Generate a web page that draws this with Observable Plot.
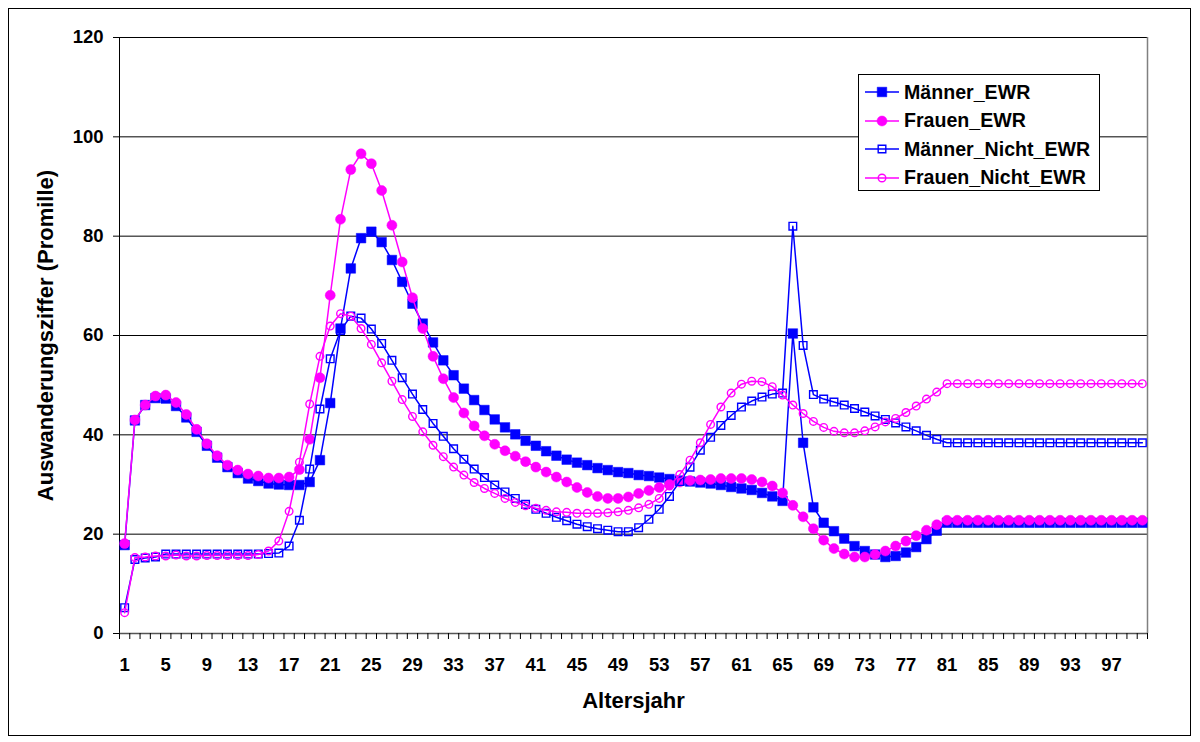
<!DOCTYPE html>
<html>
<head>
<meta charset="utf-8">
<script src="https://cdn.jsdelivr.net/npm/d3@7"></script>
<script src="https://cdn.jsdelivr.net/npm/@observablehq/plot@0.6"></script>
<style>
  body { margin: 0; background: #fff; }
  #wrap { position: relative; width: 1200px; height: 742px; font-family: "Liberation Sans", Arial, sans-serif; }
  #frame { position: absolute; left: 8px; top: 8px; width: 1181px; height: 726px; border: 1px solid #000; pointer-events: none; }
  #legend { position: absolute; left: 858px; top: 74px; width: 242px; height: 117px; box-sizing: border-box;
            border: 1px solid #000; background: #fff; padding-top: 3px; }
  .row { display: flex; align-items: center; height: 28.5px; font-weight: bold; font-size: 19.6px; color: #000; }
  .row svg { margin-left: 6px; margin-right: 5px; }
</style>
</head>
<body>
<div id="wrap"><div id="frame"></div></div>
<script>
// Altersjahr 1..100
const ages = d3.range(1, 101);

const maennerEWR = [
  17.8,42.9,46.0,47.4,47.3,45.8,43.5,40.6,37.8,35.4,
  33.5,32.3,31.2,30.7,30.2,30.0,29.9,29.9,30.5,34.9,
  46.4,61.4,73.5,79.6,80.9,78.8,75.2,70.8,66.4,62.4,
  58.6,55.0,52.0,49.3,47.0,45.0,43.1,41.5,40.1,38.8,
  37.8,36.7,35.8,35.0,34.4,33.9,33.3,32.9,32.5,32.3,
  31.9,31.7,31.4,31.1,30.8,30.6,30.4,30.2,29.9,29.5,
  29.2,28.9,28.3,27.6,26.7,60.4,38.4,25.4,22.3,20.6,
  19.1,17.6,16.6,15.9,15.4,15.6,16.3,17.4,19.0,20.7,
  22.3,22.3,22.3,22.3,22.3,22.3,22.3,22.3,22.3,22.3,
  22.3,22.3,22.3,22.3,22.3,22.3,22.3,22.3,22.3,22.3
];

const frauenEWR = [
  18.1,43.0,46.0,47.8,48.0,46.5,44.1,41.1,38.2,35.8,
  33.9,32.9,32.1,31.7,31.3,31.3,31.5,33.0,39.1,51.5,
  68.1,83.4,93.4,96.6,94.6,89.2,82.2,74.8,67.6,61.4,
  55.8,51.3,47.5,44.4,41.8,39.8,38.1,36.8,35.7,34.6,
  33.5,32.5,31.5,30.5,29.4,28.4,27.6,27.2,27.2,27.5,
  28.2,28.8,29.4,30.0,30.5,30.8,30.9,31.0,31.2,31.2,
  31.2,31.0,30.5,29.7,28.3,25.8,23.5,21.1,18.8,17.1,
  16.0,15.4,15.4,15.9,16.6,17.6,18.6,19.7,20.8,21.9,
  22.8,22.8,22.8,22.8,22.8,22.8,22.8,22.8,22.8,22.8,
  22.8,22.8,22.8,22.8,22.8,22.8,22.8,22.8,22.8,22.8
];

const maennerNichtEWR = [
  5.2,14.9,15.2,15.4,16.0,16.0,16.0,16.0,16.0,16.0,
  16.0,16.0,16.0,16.0,16.1,16.2,17.6,22.8,33.1,45.2,
  55.3,61.0,63.9,63.5,61.3,58.4,55.0,51.5,48.2,45.1,
  42.3,39.7,37.2,35.1,33.1,31.4,29.9,28.5,27.2,26.0,
  25.0,24.2,23.4,22.7,22.0,21.5,21.1,20.8,20.5,20.5,
  21.3,23.0,25.0,27.6,30.6,33.5,36.9,39.5,41.9,43.9,
  45.6,46.8,47.6,48.2,48.4,82.0,58.0,48.1,47.2,46.6,
  46.0,45.3,44.6,43.8,43.1,42.4,41.6,40.8,39.9,39.1,
  38.4,38.4,38.4,38.4,38.4,38.4,38.4,38.4,38.4,38.4,
  38.4,38.4,38.4,38.4,38.4,38.4,38.4,38.4,38.4,38.4
];

const frauenNichtEWR = [
  4.2,15.3,15.4,15.6,15.6,15.8,15.6,15.6,15.7,15.7,
  15.7,15.7,15.7,15.9,16.6,18.6,24.6,34.5,46.2,55.8,
  61.9,64.4,63.9,61.4,58.2,54.5,50.8,47.1,43.7,40.6,
  37.9,35.6,33.5,31.9,30.4,29.2,28.2,27.2,26.4,25.7,
  25.2,24.8,24.5,24.4,24.2,24.2,24.2,24.3,24.5,24.8,
  25.3,26.0,27.2,29.7,32.0,34.9,38.4,42.1,45.6,48.4,
  50.2,50.8,50.7,49.7,48.0,46.0,44.3,42.7,41.5,40.7,
  40.4,40.4,40.8,41.6,42.6,43.3,44.5,45.8,47.2,48.6,
  50.3,50.3,50.3,50.3,50.3,50.3,50.3,50.3,50.3,50.3,
  50.3,50.3,50.3,50.3,50.3,50.3,50.3,50.3,50.3,50.3
];

const seriesNames = ["Männer_EWR", "Frauen_EWR", "Männer_Nicht_EWR", "Frauen_Nicht_EWR"];
const yTicks = [0, 20, 40, 60, 80, 100, 120];
const xTickLabels = [1, 5, 9, 13, 17, 21, 25, 29, 33, 37, 41, 45, 49, 53, 57, 61, 65, 69, 73, 77, 81, 85, 89, 93, 97];
const xTitle = "Altersjahr";
const yTitle = "Auswanderungsziffer (Promille)";

const BLUE = "#0000ff", MAGENTA = "#ff00ff";
const series = [
  {name: seriesNames[0], values: maennerEWR,      color: BLUE,    symbol: "square", filled: true,  r: 5.4},
  {name: seriesNames[1], values: frauenEWR,       color: MAGENTA, symbol: "circle", filled: true,  r: 5.0},
  {name: seriesNames[2], values: maennerNichtEWR, color: BLUE,    symbol: "square", filled: false, r: 4.3},
  {name: seriesNames[3], values: frauenNichtEWR,  color: MAGENTA, symbol: "circle", filled: false, r: 3.8}
];
series.forEach(s => { s.data = ages.map((a, i) => ({age: a, value: s.values[i], series: s.name})); });

const xDomain = [ages[0] - 0.5, ages[ages.length - 1] + 0.5];
const catBoundaries = d3.range(xDomain[0], xDomain[1] + 0.001, 1);

const marks = [
  Plot.gridY(yTicks.filter(d => d > 0), {stroke: "#000", strokeOpacity: 1, strokeWidth: 1}),
  Plot.ruleX([xDomain[1]], {stroke: "#808080", strokeWidth: 1.5}),
  Plot.ruleX([xDomain[0]], {stroke: "#000", strokeWidth: 1}),
  Plot.ruleY([0], {stroke: "#555", strokeWidth: 1.5}),
  Plot.axisY({ticks: yTicks, tickSize: 6, tickPadding: 10, label: null, fontSize: 18.5, fontWeight: "bold"}),
  Plot.axisX({ticks: catBoundaries, tickSize: 6, tickFormat: () => "", label: null}),
  Plot.axisX({ticks: xTickLabels, tickSize: 0, tickPadding: 24, tickFormat: d => String(d), label: null, fontSize: 18.5, fontWeight: "bold"}),
  Plot.text([xTitle], {text: d => d, frameAnchor: "bottom", dy: 67, lineAnchor: "middle", textAnchor: "middle", fontSize: 22, fontWeight: "bold", fill: "#000"}),
  Plot.text([yTitle], {text: d => d, frameAnchor: "left", rotate: -90, dx: -73.5, lineAnchor: "middle", textAnchor: "middle", fontSize: 22, fontWeight: "bold", fill: "#000"})
];
for (const s of series) {
  marks.push(Plot.line(s.data, {x: "age", y: "value", stroke: s.color, strokeWidth: 1.5}));
  marks.push(Plot.dot(s.data, {
    x: "age", y: "value", symbol: s.symbol, r: s.r,
    fill: s.filled ? s.color : "none", stroke: s.color, strokeWidth: s.filled ? 0.5 : 1.4
  }));
}

const chart = Plot.plot({
  width: 1200,
  height: 742,
  marginLeft: 119,
  marginRight: 53,
  marginTop: 37,
  marginBottom: 109,
  x: {type: "linear", domain: xDomain},
  y: {domain: [0, 120]},
  style: {fontFamily: "'Liberation Sans', Arial, sans-serif", color: "#000", background: "transparent", overflow: "visible"},
  marks
});
const wrap = document.getElementById("wrap");
wrap.insertBefore(chart, wrap.firstChild);

// legend
const legend = document.createElement("div");
legend.id = "legend";
for (const s of series) {
  const row = document.createElement("div");
  row.className = "row";
  const ns = "http://www.w3.org/2000/svg";
  const svg = document.createElementNS(ns, "svg");
  svg.setAttribute("width", 34); svg.setAttribute("height", 14);
  const line = document.createElementNS(ns, "line");
  line.setAttribute("x1", 0); line.setAttribute("x2", 34); line.setAttribute("y1", 7); line.setAttribute("y2", 7);
  line.setAttribute("stroke", s.color); line.setAttribute("stroke-width", 1.5);
  svg.appendChild(line);
  const sym = s.symbol === "square" ? d3.symbolSquare : d3.symbolCircle;
  const p = document.createElementNS(ns, "path");
  p.setAttribute("d", d3.symbol(sym, Math.PI * s.r * s.r)());
  p.setAttribute("transform", "translate(17,7)");
  p.setAttribute("fill", s.filled ? s.color : "none");
  p.setAttribute("stroke", s.color);
  p.setAttribute("stroke-width", s.filled ? 0.5 : 1.4);
  svg.appendChild(p);
  row.appendChild(svg);
  const t = document.createElement("span");
  t.textContent = s.name;
  row.appendChild(t);
  legend.appendChild(row);
}
wrap.appendChild(legend);
</script>
</body>
</html>
